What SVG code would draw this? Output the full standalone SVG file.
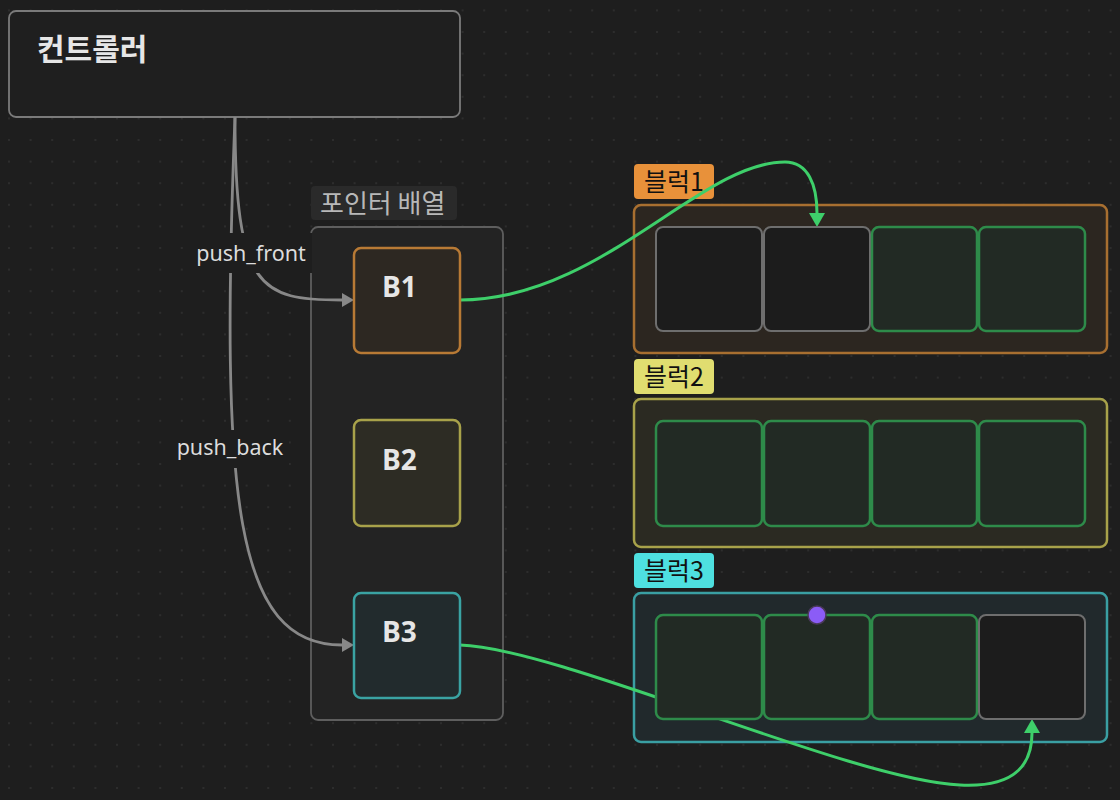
<svg xmlns="http://www.w3.org/2000/svg" width="1120" height="800" viewBox="0 0 1120 800">
  <defs>
    <pattern id="dots" x="-1.8" y="-0.4" width="21.6" height="21.6" patternUnits="userSpaceOnUse">
      <circle cx="10.8" cy="10.8" r="0.9" fill="#333"/>
    </pattern>
    <marker id="arrGray" markerWidth="12" markerHeight="14" refX="0" refY="7" orient="auto" markerUnits="userSpaceOnUse">
      <path d="M0,0 L12,7 L0,14 z" fill="#888"/>
    </marker>
    <marker id="arrGreen" markerWidth="14" markerHeight="16" refX="0" refY="8" orient="auto" markerUnits="userSpaceOnUse">
      <path d="M0,0 L14,8 L0,16 z" fill="#3ecf6a"/>
    </marker>
    <style>
      .kr { font-family: "Noto Sans CJK KR", "Noto Sans", sans-serif; }
      .ptr { stroke-width: 2.5; }
      .ptrtext { font-family: "Open Sans", "Noto Sans", sans-serif; font-weight: 700; font-size: 28px; fill: #e6e6e6; }
      .cont { stroke-width: 2.5; }
      .tag { font-family: "Noto Sans CJK KR", "Noto Sans", sans-serif; font-size: 25px; fill: #111; }
      .cellG { fill: #222a24; stroke: #2e8b4a; stroke-width: 2.5; }
      .cellE { fill: #1c1c1c; stroke: #6e6e6e; stroke-width: 2; }
      .edgeG { fill: none; stroke: #888; stroke-width: 2.8; }
      .edgeGr { fill: none; stroke: #3ecf6a; stroke-width: 3; }
      .elabel { font-family: "Noto Sans", "Open Sans", sans-serif; font-size: 21.5px; fill: #dcdcdc; }
    </style>
  </defs>

  <rect width="1120" height="800" fill="#1e1e1e"/>
  <rect width="1120" height="800" fill="url(#dots)"/>

  <!-- Controller -->
  <g id="controller">
    <rect x="9" y="11" width="451" height="106" rx="7" fill="#1f1f1f" stroke="#7a7a7a" stroke-width="1.8"/>
    <text x="37" y="60" class="kr" font-size="30" font-weight="700" fill="#e6e6e6">컨트롤러</text>
  </g>

  <!-- Pointer array group -->
  <g id="pointer-array">
    <rect x="311" y="227" width="192" height="493" rx="7" fill="#232323" stroke="#5e5e5e" stroke-width="1.8"/>
    <rect x="311" y="186" width="146" height="34" rx="4" fill="#2a2a2a"/>
    <text x="320" y="213" class="kr" font-size="26" fill="#b8b8b8">포인터 배열</text>
  </g>

  <!-- Block containers -->
  <g id="block1">
    <rect x="634" y="205" width="473" height="148" rx="7" fill="#2c2620" stroke="#a86f30" class="cont"/>
    <rect x="634" y="164" width="80" height="35" rx="4" fill="#e8913a"/>
    <text x="644" y="191" class="tag">블럭1</text>
  </g>
  <g id="block2">
    <rect x="634" y="399" width="473" height="148" rx="7" fill="#2b2a22" stroke="#a8a24a" class="cont"/>
    <rect x="634" y="359" width="80" height="35" rx="4" fill="#e0dd70"/>
    <text x="644" y="386" class="tag">블럭2</text>
  </g>
  <g id="block3">
    <rect x="634" y="593" width="473" height="149" rx="7" fill="#21292c" stroke="#3a9fa3" class="cont"/>
    <rect x="634" y="553" width="80" height="35" rx="4" fill="#4ee0e0"/>
    <text x="644" y="580" class="tag">블럭3</text>
  </g>

  <!-- Connectors -->
  <g id="connectors">
    <path class="edgeG" d="M235,117 C235,290 260,300 342,300" marker-end="url(#arrGray)"/>
    <path class="edgeG" d="M235,117 C220,500 235,645 342,645" marker-end="url(#arrGray)"/>
    <rect x="195" y="233" width="117" height="40" fill="#1e1e1e"/>
    <text x="251" y="261" class="elabel" text-anchor="middle">push_front</text>
    <rect x="173" y="430" width="116" height="38" fill="#1e1e1e"/>
    <text x="230" y="455" class="elabel" text-anchor="middle">push_back</text>
    <path class="edgeGr" d="M460,300 C600,300 700,162 785,162 C808,162 817,185 817,213" marker-end="url(#arrGreen)"/>
    <path class="edgeGr" d="M460,645 C560,648 850,780 960,785 C1020,788 1032,760 1032,733" marker-end="url(#arrGreen)"/>
  </g>

  <!-- Pointer nodes -->
  <g id="B1">
    <rect x="354" y="248" width="106" height="105" rx="7" fill="#2d2822" stroke="#b87a35" class="ptr"/>
    <text x="382" y="297" class="ptrtext">B1</text>
  </g>
  <g id="B2">
    <rect x="354" y="420" width="106" height="106" rx="7" fill="#2d2c24" stroke="#a8a24a" class="ptr"/>
    <text x="382" y="470" class="ptrtext">B2</text>
  </g>
  <g id="B3">
    <rect x="354" y="593" width="106" height="105" rx="7" fill="#222b2d" stroke="#3aa3a3" class="ptr"/>
    <text x="382" y="642" class="ptrtext">B3</text>
  </g>

  <!-- Cells -->
  <g id="block1-cells">
    <rect class="cellE" x="656" y="227" width="106" height="104" rx="7"/>
    <rect class="cellE" x="764" y="227" width="106" height="104" rx="7"/>
    <rect class="cellG" x="872" y="227" width="105" height="104" rx="7"/>
    <rect class="cellG" x="979" y="227" width="106" height="104" rx="7"/>
  </g>
  <g id="block2-cells">
    <rect class="cellG" x="656" y="421" width="106" height="105" rx="7"/>
    <rect class="cellG" x="764" y="421" width="106" height="105" rx="7"/>
    <rect class="cellG" x="872" y="421" width="105" height="105" rx="7"/>
    <rect class="cellG" x="979" y="421" width="106" height="105" rx="7"/>
  </g>
  <g id="block3-cells">
    <rect class="cellG" x="656" y="615" width="106" height="104" rx="7"/>
    <rect class="cellG" x="764" y="615" width="106" height="104" rx="7"/>
    <rect class="cellG" x="872" y="615" width="105" height="104" rx="7"/>
    <rect class="cellE" x="979" y="615" width="106" height="104" rx="7"/>
  </g>
  <g id="cursor">
    <circle cx="817" cy="615" r="9" fill="#8b5cf6" stroke="#4a3a5a" stroke-width="1.5"/>
  </g>
</svg>
